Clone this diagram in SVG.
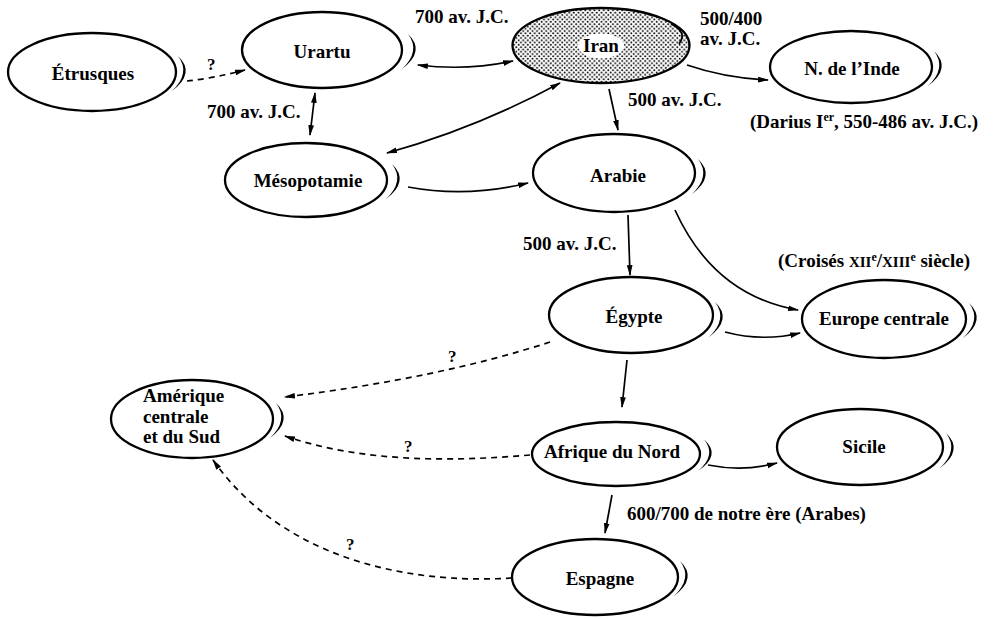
<svg xmlns="http://www.w3.org/2000/svg" xmlns:xlink="http://www.w3.org/1999/xlink" width="997" height="619" viewBox="0 0 997 619">
<style>
text{font-family:"Liberation Serif","DejaVu Serif",serif;font-weight:bold;font-size:19px;fill:#000}
.n{text-anchor:middle}
.q{font-size:17px}
.node ellipse{fill:#fff;stroke:#000;stroke-width:2.3}
.cr{fill:#000;stroke:none}
.c path{fill:none;stroke:#000;stroke-width:1.7}
.c .d{stroke-dasharray:6 5}
</style>
<defs>
<marker id="ah" viewBox="0 0 10 6" refX="9" refY="3" markerWidth="11" markerHeight="6.6" markerUnits="userSpaceOnUse" orient="auto-start-reverse">
<path d="M0,0.4 L10,3 L0,5.6 Z" fill="#000"/>
</marker>
<pattern id="dots" width="4.6" height="4.6" patternUnits="userSpaceOnUse">
<rect width="4.6" height="4.6" fill="#fff"/>
<circle cx="1.15" cy="1.15" r="1" fill="#000"/>
<circle cx="3.45" cy="3.45" r="1" fill="#000"/>
</pattern>
<path id="cres" d="M84,-16 Q102,1 78,19 Q97,1 84,-16 Z"/>
</defs>

<g id="etrusques" class="node">
<ellipse cx="92" cy="72" rx="84" ry="39"/>
<use xlink:href="#cres" class="cr" transform="translate(94,72)"/>
<text class="n" x="93" y="80">Étrusques</text>
</g>
<g id="urartu" class="node">
<ellipse cx="322" cy="50" rx="80" ry="38"/>
<use xlink:href="#cres" class="cr" transform="translate(324,50)"/>
<text class="n" x="322" y="58">Urartu</text>
</g>
<g id="iran" class="node">
<ellipse cx="601" cy="45.5" rx="88.5" ry="37.5" style="fill:url(#dots)"/>
<path d="M671,24 Q688,32 679,44" fill="none" stroke="#000" stroke-width="1.8"/>
<ellipse cx="601" cy="46" rx="23" ry="12.5" style="fill:#fff;stroke:none"/>
<text class="n" x="601" y="52">Iran</text>
</g>
<g id="inde" class="node">
<ellipse cx="851" cy="67" rx="81" ry="36"/>
<use xlink:href="#cres" class="cr" transform="translate(850,67)"/>
<text class="n" x="852" y="75">N. de l’Inde</text>
</g>
<g id="mesopotamie" class="node">
<ellipse cx="306" cy="180" rx="81" ry="37"/>
<use xlink:href="#cres" class="cr" transform="translate(308,180)"/>
<text class="n" x="308" y="187">Mésopotamie</text>
</g>
<g id="arabie" class="node">
<ellipse cx="614" cy="173" rx="81" ry="39"/>
<use xlink:href="#cres" class="cr" transform="translate(614,175)"/>
<text class="n" x="618" y="182">Arabie</text>
</g>
<g id="egypte" class="node">
<ellipse cx="631" cy="315" rx="82" ry="38"/>
<use xlink:href="#cres" class="cr" transform="translate(631,318)"/>
<text class="n" x="634" y="323">Égypte</text>
</g>
<g id="europe" class="node">
<ellipse cx="884" cy="319" rx="82" ry="39"/>
<use xlink:href="#cres" class="cr" transform="translate(885,319)"/>
<text class="n" x="884" y="325">Europe centrale</text>
</g>
<g id="amerique" class="node">
<ellipse cx="192" cy="419" rx="81" ry="39"/>
<use xlink:href="#cres" class="cr" transform="translate(192,419)"/>
<text x="143" y="402">Amérique</text>
<text x="143" y="423">centrale</text>
<text x="143" y="443">et du Sud</text>
</g>
<g id="afrique" class="node">
<ellipse cx="616" cy="454" rx="84" ry="32"/>
<use xlink:href="#cres" class="cr" transform="translate(620,454) scale(1,0.9)"/>
<text class="n" x="612" y="458">Afrique du Nord</text>
</g>
<g id="sicile" class="node">
<ellipse cx="860" cy="447" rx="83" ry="38"/>
<use xlink:href="#cres" class="cr" transform="translate(862,449)"/>
<text class="n" x="864" y="453">Sicile</text>
</g>
<g id="espagne" class="node">
<ellipse cx="595" cy="577" rx="83" ry="38"/>
<use xlink:href="#cres" class="cr" transform="translate(596,577)"/>
<text class="n" x="600" y="585">Espagne</text>
</g>

<g id="connectors" class="c">
<path class="d" d="M187,81 Q215,78 245,70" marker-end="url(#ah)"/>
<path d="M418,65 Q467,71 513,61" marker-start="url(#ah)" marker-end="url(#ah)"/>
<path d="M315,93 L310,135" marker-start="url(#ah)" marker-end="url(#ah)"/>
<path d="M560,83 Q477,128 387,153" marker-start="url(#ah)" marker-end="url(#ah)"/>
<path d="M609,89 L618,130" marker-end="url(#ah)"/>
<path d="M687,65 Q725,78 768,80" marker-end="url(#ah)"/>
<path d="M408,187 Q467,198 528,183" marker-end="url(#ah)"/>
<path d="M628,215 L630,275" marker-end="url(#ah)"/>
<path d="M675,210 C700,265 740,300 798,310" marker-end="url(#ah)"/>
<path d="M725,332 Q763,342 800,333" marker-end="url(#ah)"/>
<path d="M627,360 L622,407" marker-end="url(#ah)"/>
<path class="d" d="M550,342 Q440,378 285,397" marker-end="url(#ah)"/>
<path class="d" d="M530,455 C450,462 360,462 285,436" marker-end="url(#ah)"/>
<path d="M708,465 Q743,472 777,463" marker-end="url(#ah)"/>
<path d="M612,495 L605,533" marker-end="url(#ah)"/>
<path class="d" d="M512,578 C400,585 280,555 213,460" marker-end="url(#ah)"/>
</g>

<g id="labels">
<text class="q" x="207" y="70">?</text>
<text class="q" x="448" y="362">?</text>
<text class="q" x="404" y="452">?</text>
<text class="q" x="346" y="550">?</text>
<text x="207" y="118">700 av. J.C.</text>
<text x="415" y="23">700 av. J.C.</text>
<text x="700" y="25">500/400</text>
<text x="700" y="45">av. J.C.</text>
<text x="628" y="106">500 av. J.C.</text>
<text x="750" y="128">(Darius I<tspan font-size="12" dy="-7">er</tspan><tspan dy="7">, 550-486 av. J.C.)</tspan></text>
<text x="523" y="250">500 av. J.C.</text>
<text x="778" y="267">(Croisés <tspan font-size="15">XII</tspan><tspan font-size="12" dy="-6">e</tspan><tspan dy="6">/</tspan><tspan font-size="15">XIII</tspan><tspan font-size="12" dy="-6">e</tspan><tspan dy="6"> siècle)</tspan></text>
<text x="627" y="520">600/700 de notre ère (Arabes)</text>
</g>
</svg>
